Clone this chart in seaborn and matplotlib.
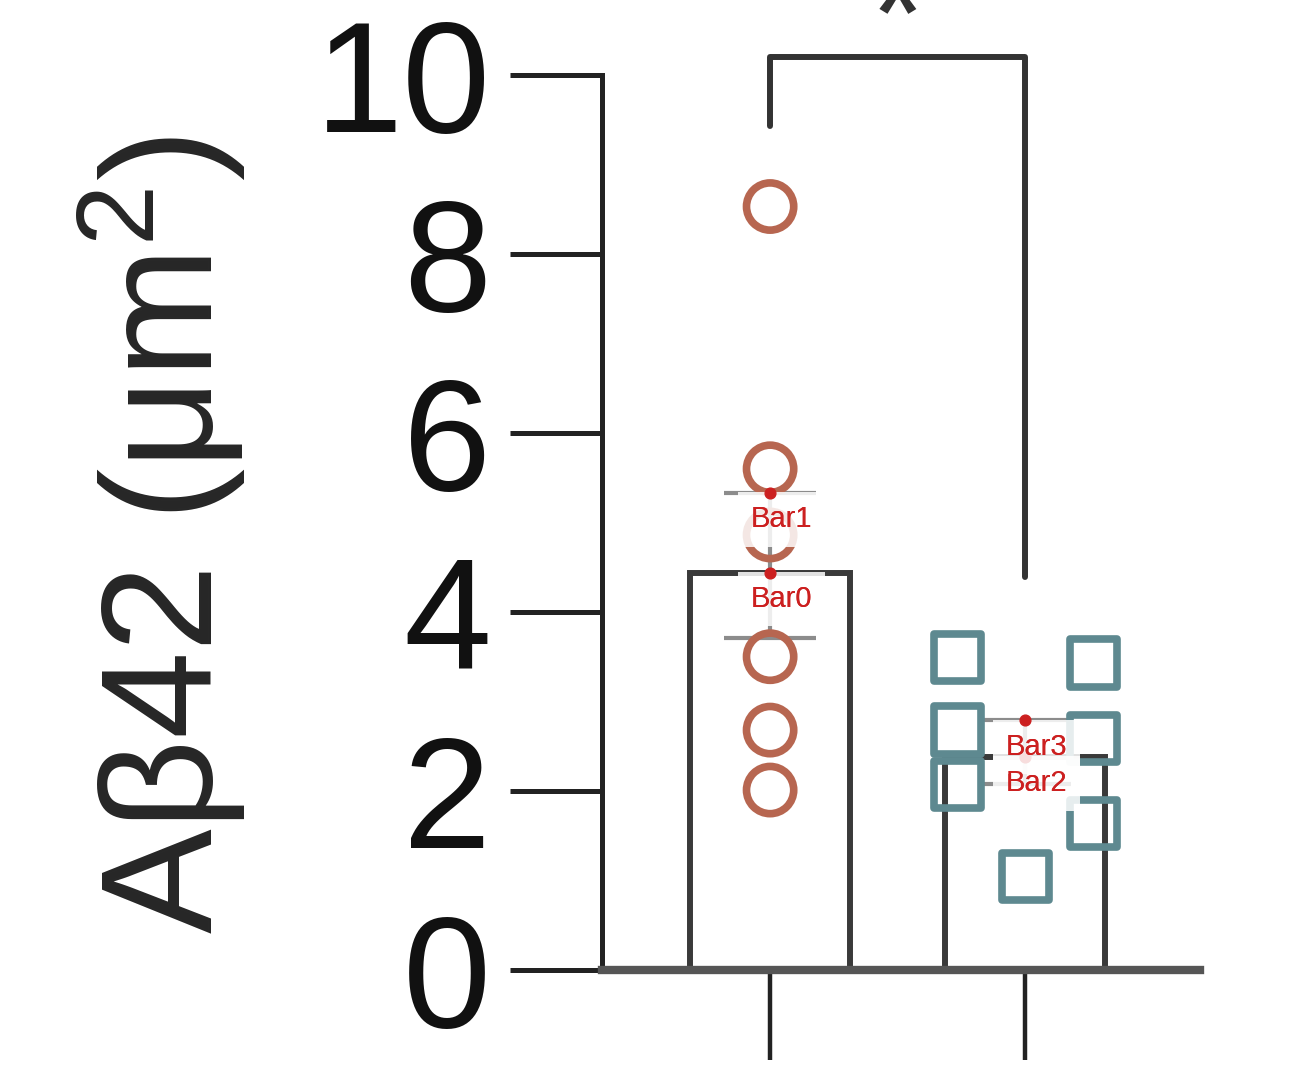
"""
Abeta42 plaque area: bar (mean +/- SEM) with individual points, two groups.
"""

import numpy as np
import pandas as pd
import seaborn as sns
import matplotlib.pyplot as plt

GROUPS = ["group 1", "group 2"]  # x labels are not shown in the figure
CIRCLE_VALUES = [8.53, 5.60, 4.86, 3.50, 2.68, 2.01]
SQUARE_VALUES = [3.49, 3.43, 2.68, 2.59, 2.07, 1.64, 1.04]
SQUARE_SIDE = ["L", "R", "L", "R", "L", "R", "C"]  # scatter column within the bar
BAR_MEANS = [4.44, 2.38]
ERR_LOW = [0.73, 0.30]
ERR_HIGH = [0.89, 0.41]
BAR_TAGS = ["Bar0", "Bar1", "Bar2", "Bar3"]
Y_TICKS = [0, 2, 4, 6, 8, 10]
Y_LABEL = "Aβ42 (μm$^{2}$)"
SIG_TEXT = "*"

CIRCLE_COLOR = "#b76650"
SQUARE_COLOR = "#5e8990"
TAG_COLOR = "#cc2020"


sns.set_theme(style="ticks")
plt.rcParams["font.family"] = ["Liberation Sans", "DejaVu Sans"]
plt.rcParams["mathtext.fontset"] = "custom"
plt.rcParams["mathtext.rm"] = "Liberation Sans"
plt.rcParams["mathtext.it"] = "Liberation Sans:italic"
plt.rcParams["mathtext.bf"] = "Liberation Sans:bold"

fig = plt.figure(figsize=(13.04, 10.88), dpi=100)
ax = fig.add_axes([0.4617, 0.1085, 0.4586, 0.8226])

# bars
bars = pd.DataFrame({"group": GROUPS, "mean": BAR_MEANS})
sns.barplot(data=bars, x="group", y="mean", order=GROUPS, width=0.627,
            color="white", edgecolor="#3a3a3a", linewidth=4.3,
            errorbar=None, ax=ax, zorder=2)

# error bars
ax.errorbar(x=np.arange(len(GROUPS)), y=BAR_MEANS, yerr=[ERR_LOW, ERR_HIGH], fmt="none",
            ecolor="#8c8c8c", elinewidth=3, capsize=33, capthick=3, zorder=3)

# individual points
pts1 = pd.DataFrame({"group": GROUPS[0], "value": CIRCLE_VALUES, "side": "C"})
pts2 = pd.DataFrame({"group": GROUPS[1], "value": SQUARE_VALUES, "side": SQUARE_SIDE})
for df, mk, col in [(pts1, "o", CIRCLE_COLOR), (pts2, "s", SQUARE_COLOR)]:
    n = len(ax.collections)
    sns.stripplot(data=df, x="group", y="value", order=GROUPS, hue="side",
                  hue_order=["L", "C", "R"], dodge=True, jitter=False,
                  marker=mk, size=34, palette=[col] * 3, legend=False,
                  ax=ax, zorder=4)
    for c in ax.collections[n:]:
        c.set_facecolor("none")
        c.set_edgecolor(col)
        c.set_linewidth(5.5)

# red tags on bar tops / error tops
tag_x = [0, 0, 1, 1]
tag_y = [BAR_MEANS[0], BAR_MEANS[0] + ERR_HIGH[0],
         BAR_MEANS[1], BAR_MEANS[1] + ERR_HIGH[1]]
for i, (tx, ty, tag) in enumerate(zip(tag_x, tag_y, BAR_TAGS)):
    ax.annotate(tag, xy=(tx, ty), xytext=(-14, -9), textcoords="offset points",
                ha="left", va="top", fontsize=21, color=TAG_COLOR,
                family=["Liberation Sans", "DejaVu Sans"],
                bbox=dict(boxstyle="square,pad=0.45", fc="white", ec="none", alpha=0.85),
                zorder=6 + 2 * i)
    ax.scatter([tx], [ty], s=60, color=TAG_COLOR, zorder=7 + 2 * i, clip_on=False)
# text again on top so later boxes don't hide earlier labels
for tx, ty, tag in zip(tag_x, tag_y, BAR_TAGS):
    ax.annotate(tag, xy=(tx, ty), xytext=(-14, -9), textcoords="offset points",
                ha="left", va="top", fontsize=21, color=TAG_COLOR,
                family=["Liberation Sans", "DejaVu Sans"], zorder=20)

# significance bracket
gap = 0.9
top = 10.2
ax.plot([0, 0, 1, 1],
        [max(CIRCLE_VALUES) + gap, top, top, max(SQUARE_VALUES) + gap],
        color="#333333", lw=4.3, solid_joinstyle="round", solid_capstyle="round",
        clip_on=False, zorder=5)
ax.text(0.5, 10.17, SIG_TEXT, ha="center", va="baseline", fontsize=100,
        color="#333333", clip_on=False)

# axes styling
ax.set_ylim(0, 10)
ax.set_yticks(Y_TICKS)
ax.set_xlim(-0.659, 1.686)
ax.set_xlabel("")
ax.set_ylabel(Y_LABEL, fontsize=113)
ax.yaxis.set_label_coords(-0.592, 0.486)
ax.tick_params(axis="y", length=66, width=3.6, pad=14, labelsize=114, color="#222222",
               labelcolor="#111111")
ax.tick_params(axis="x", length=65, width=3.2, labelbottom=False, color="#222222")
sns.despine(ax=ax)
ax.spines["left"].set_linewidth(3.6)
ax.spines["left"].set_color("#222222")
ax.spines["bottom"].set_linewidth(6)
ax.spines["bottom"].set_color("#555555")

fig.savefig("out.png", dpi=100)
